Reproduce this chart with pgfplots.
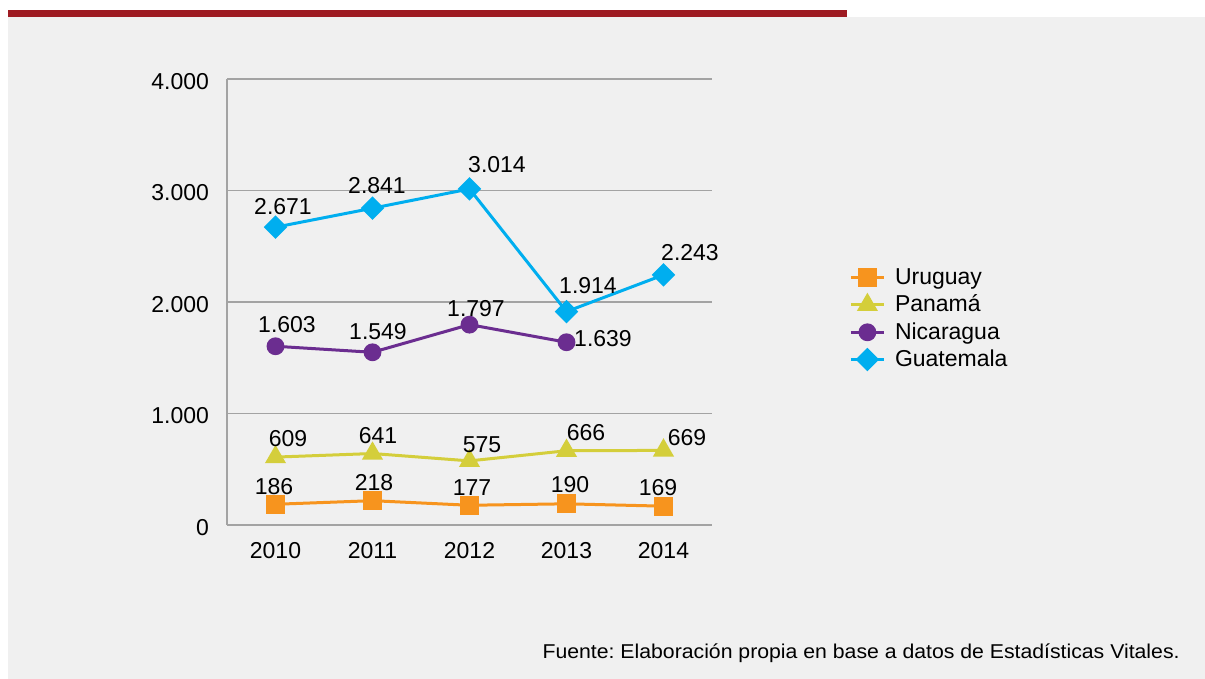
\documentclass[border=0pt]{standalone}
\usepackage{fontspec}
\setmainfont{Liberation Sans}
\usepackage{graphicx}
\usepackage{pgfplots}
\usepackage{pgfplotstable}
\pgfplotsset{compat=1.18}
\definecolor{bgray}{HTML}{F0F0F0}
\definecolor{redbar}{HTML}{9E1B22}
\definecolor{gridgray}{HTML}{A3A3A3}
\definecolor{uru}{HTML}{F7941E}
\definecolor{pan}{HTML}{D4CE3B}
\definecolor{nic}{HTML}{6B2D90}
\definecolor{gua}{HTML}{00AEEF}
\newcommand{\lblfont}{\fontsize{11.5}{13}\selectfont}

\pgfplotstableread{
x y lab dx dy
2010 186 186 -0.75 8.65
2011 218 218 0.75 8.85
2012 177 177 1.25 8.65
2013 190 190 1.75 9.4
2014 169 169 -2.75 9.1
}\uru
\pgfplotstableread{
x y lab dx dy
2010 609 609 6.25 9.05
2011 641 641 2.75 8.75
2012 575 575 6.25 7.95
2013 666 666 9.75 8.85
2014 669 669 11.75 6.2
}\pan
\pgfplotstableread{
x y lab dx dy
2010 1603 1.603 5.75 10.65
2011 1549 1.549 2.75 10.15
2012 1797 1.797 3.25 7.8
2013 1639 1.639 18.25 1.65
}\nic
\pgfplotstableread{
x y lab dx dy
2010 2671 2.671 3.75 10.1
2011 2841 2.841 2.25 11.1
2012 3014 3.014 13.75 11.95
2013 1914 1.914 10.75 12.8
2014 2243 2.243 13.25 10.95
}\gua

\pgfplotsset{
  lbl/.style={
    draw=none, mark=none, forget plot,
    nodes near coords, point meta=explicit symbolic,
    visualization depends on={\thisrow{dx}\as\dx},
    visualization depends on={\thisrow{dy}\as\dy},
    every node near coord/.append style={anchor=center, xshift=\dx*1pt, yshift=\dy*1pt, text=black, font=\lblfont, inner sep=0pt},
  },
}

\begin{document}
\frenchspacing
\begin{tikzpicture}
\path[fill=white] (0,0) rectangle (602.5pt,-339.5pt);
\path[fill=bgray] (4pt,-8.75pt) rectangle (602.5pt,-339.5pt);
\path[fill=redbar] (4pt,-5pt) rectangle (423.5pt,-8.75pt);
\begin{axis}[
  at={(113.5pt,-262.5pt)}, anchor=south west,
  scale only axis, width=242.5pt, height=223pt,
  xmin=2009.5, xmax=2014.5, ymin=0, ymax=4000,
  xtick={2010,2011,2012,2013,2014}, ytick={0,1000,2000,3000,4000},
  /pgf/number format/assume math mode=true,
  xticklabel style={/pgf/number format/1000 sep={}, yshift=-5pt},
  yticklabel style={/pgf/number format/1000 sep={.}, xshift=-5.5pt, yshift=-1.2pt},
  axis x line*=bottom, axis y line*=left,
  axis line style={draw=gridgray, line width=0.75pt, -},
  ymajorgrids, grid style={gridgray, line width=0.75pt},
  major tick length=0pt,
  tick label style={font=\lblfont, text=black},
  clip=false,
  legend image code/.code={\draw[mark repeat=2,mark phase=2,#1] plot coordinates {(0pt,0pt) (8.25pt,0pt) (16.5pt,0pt)};},
  legend style={at={(1.2825,0.462)}, anchor=west, draw=none, fill=none, font=\lblfont, inner sep=0pt, row sep=1.8pt, column sep=3.8pt, nodes={inner sep=1pt}},
  legend cell align=left,
]
\addplot[uru, line width=1.5pt, mark=square*, mark size=4pt, mark options={solid}] table[x=x,y=y]{\uru};
\addlegendentry{Uruguay}
\addplot[pan, line width=1.5pt, mark=triangle*, mark size=4.6pt, mark options={solid}] table[x=x,y=y]{\pan};
\addlegendentry{Panamá}
\addplot[nic, line width=1.5pt, mark=*, mark size=3.7pt, mark options={solid}] table[x=x,y=y]{\nic};
\addlegendentry{Nicaragua}
\addplot[gua, line width=1.5pt, mark=square*, mark size=3.4pt, mark options={solid, rotate=45}] table[x=x,y=y]{\gua};
\addlegendentry{Guatemala}
\addplot[lbl] table[x=x,y=y,meta=lab]{\uru};
\addplot[lbl] table[x=x,y=y,meta=lab]{\pan};
\addplot[lbl] table[x=x,y=y,meta=lab]{\nic};
\addplot[lbl] table[x=x,y=y,meta=lab]{\gua};
\end{axis}
\node[anchor=base east, inner sep=0pt, text=black] at (590pt,-329pt) {\resizebox{318.5pt}{\height}{\fontsize{10}{12}\selectfont Fuente: Elaboración propia en base a datos de Estadísticas Vitales.}};
\end{tikzpicture}
\end{document}
